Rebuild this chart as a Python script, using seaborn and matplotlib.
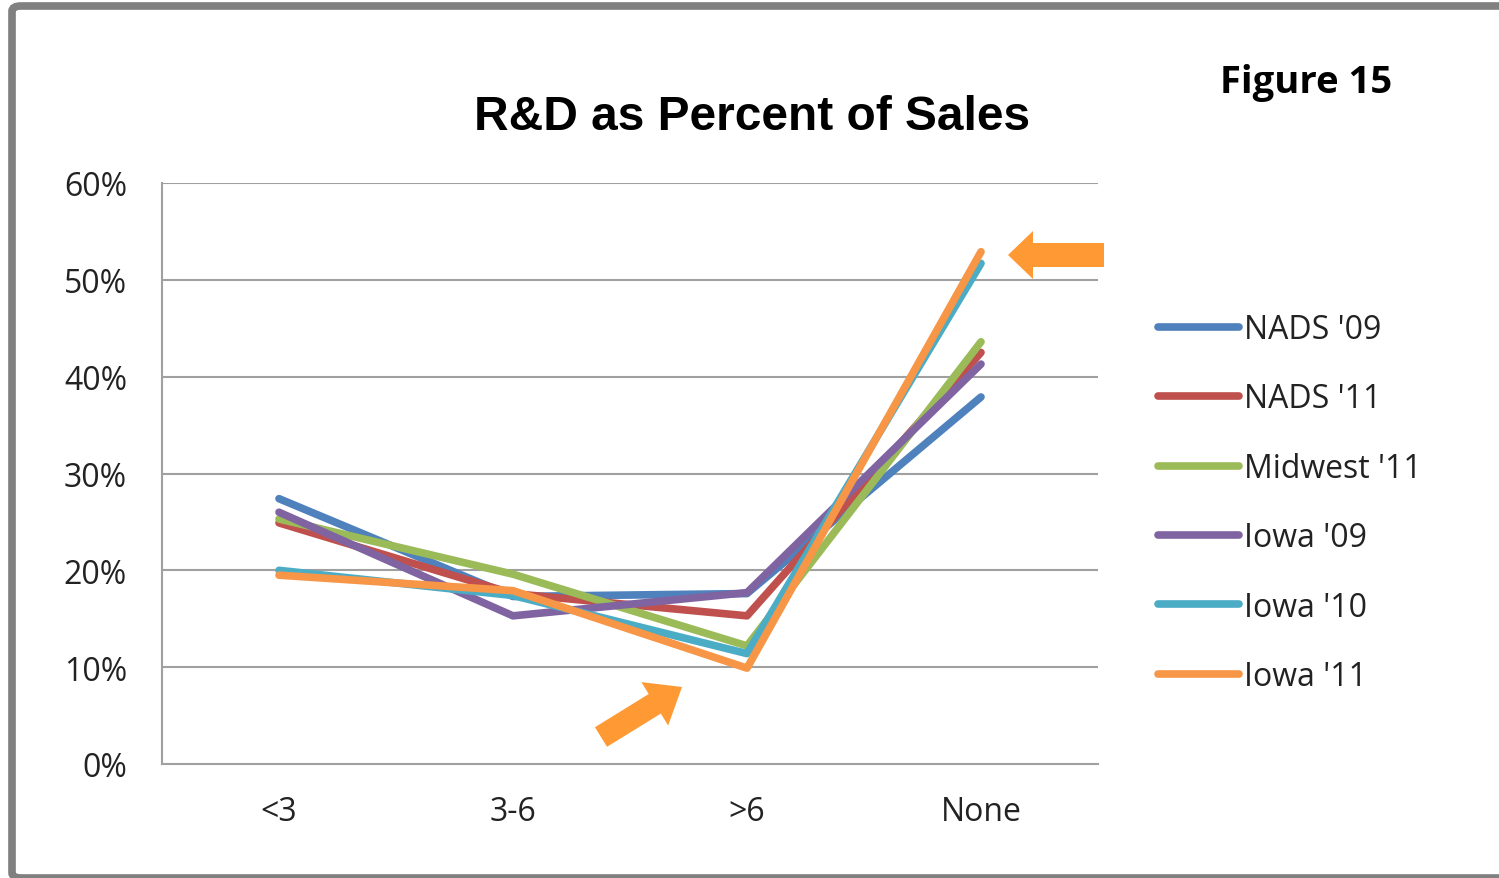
import matplotlib
matplotlib.use("Agg")
import matplotlib.pyplot as plt
import matplotlib.patches as mpatches
import matplotlib.transforms as mtransforms
import numpy as np
import pandas as pd
import seaborn as sns

# ---- data -------------------------------------------------------------
categories = ["<3", "3-6", ">6", "None"]
series_names = ["NADS '09", "NADS '11", "Midwest '11", "Iowa '09", "Iowa '10", "Iowa '11"]
nads_09 = [27.4, 17.3, 17.6, 37.9]
nads_11 = [24.9, 17.6, 15.3, 42.5]
midwest_11 = [25.3, 19.6, 12.2, 43.6]
iowa_09 = [26.0, 15.3, 17.7, 41.3]
iowa_10 = [20.0, 17.4, 11.4, 51.7]
iowa_11 = [19.5, 17.9, 9.9, 52.9]
y_ticks = [0, 10, 20, 30, 40, 50, 60]
colors = ["#4F81BD", "#C0504D", "#9BBB59", "#8064A2", "#4BACC6", "#F79646"]

values = [nads_09, nads_11, midwest_11, iowa_09, iowa_10, iowa_11]
df = pd.DataFrame(
    [(cat, name, v) for name, vals in zip(series_names, values) for cat, v in zip(categories, vals)],
    columns=["years", "series", "pct"],
)

# ---- figure -----------------------------------------------------------
W, H = 1499, 879
sns.set_style("white")
plt.rcParams["font.family"] = ["Open Sans", "DejaVu Sans"]
fig = plt.figure(figsize=(W / 100, H / 100), dpi=100)
fig.patch.set_facecolor("white")

def fx(px):
    return px / W

def fy(py):
    return 1 - py / H

ax = fig.add_axes([fx(162), fy(765), fx(1098) - fx(162), fy(184) - fy(765)])

LW = 5.5
sns.lineplot(
    data=df, x="years", y="pct", hue="series", hue_order=series_names,
    palette=colors, sort=False, linewidth=LW, ax=ax, legend=False,
    solid_joinstyle="round", solid_capstyle="round",
)

ax.set_xlim(-0.5, len(categories) - 0.5)
ax.set_ylim(0, 60)
ax.set_yticks(y_ticks)
ax.set_yticklabels([f"{t}%" for t in y_ticks])
ax.set_xticks(range(len(categories)))
ax.set_xticklabels(categories)
ax.set_xlabel("")
ax.set_ylabel("")

grid_color = "#A0A0A0"
for t in y_ticks[1:]:
    ax.axhline(t, color=grid_color, lw=1.5, zorder=0)
for side in ["top", "right"]:
    ax.spines[side].set_visible(False)
for side in ["left", "bottom"]:
    ax.spines[side].set_color(grid_color)
    ax.spines[side].set_linewidth(1.5)
ax.tick_params(axis="both", length=0, labelsize=23, colors="#222222")
ax.tick_params(axis="y", pad=35 / 1.389)
ax.tick_params(axis="x", pad=22)

# legend
handles = [plt.Line2D([0], [0], color=c, lw=LW, solid_capstyle="round") for c in colors]
fig.legend(
    handles, series_names, loc="upper left",
    bbox_to_anchor=(fx(1158), fy(314)), bbox_transform=fig.transFigure,
    frameon=False, fontsize=23, handlelength=2.55, handletextpad=0.15,
    labelspacing=1.14, borderpad=0, borderaxespad=0, labelcolor="#222222",
)

# titles
fig.text(fx(752), fy(130), "R&D as Percent of Sales", ha="center", va="baseline",
         fontsize=34.5, fontweight="bold", color="black",
         family=["Liberation Sans", "DejaVu Sans"])
fig.text(fx(1220), fy(93), "Figure 15", ha="left", va="baseline",
         fontsize=27.5, fontweight="bold", color="black")

# outer frame
frame = mpatches.FancyBboxPatch(
    (fx(12), fy(879)), fx(1530) - fx(12), fy(7) - fy(879),
    boxstyle="round,pad=0,rounding_size=0.006", transform=fig.transFigure,
    facecolor="none", edgecolor="#808080", lw=5.5, zorder=10,
)
fig.add_artist(frame)

# highlight arrows, drawn in pixel space
arrow_color = "#FF9933"

def block_arrow(tail, tip, body_w, head_w, head_len):
    tail = np.array([tail[0], H - tail[1]], float)
    tip = np.array([tip[0], H - tip[1]], float)
    d = tip - tail
    d /= np.linalg.norm(d)
    n = np.array([-d[1], d[0]])
    base = tip - d * head_len
    pts = [
        tail + n * body_w / 2, base + n * body_w / 2, base + n * head_w / 2,
        tip, base - n * head_w / 2, base - n * body_w / 2, tail - n * body_w / 2,
    ]
    poly = mpatches.Polygon(pts, closed=True, facecolor=arrow_color, edgecolor="none",
                            transform=mtransforms.IdentityTransform(), zorder=11)
    fig.add_artist(poly)

block_arrow((1104, 256), (1008, 256), 24, 48, 25)
block_arrow((601, 738), (682, 688), 23, 51, 32)

fig.savefig("out.png", dpi=100, facecolor="white")
